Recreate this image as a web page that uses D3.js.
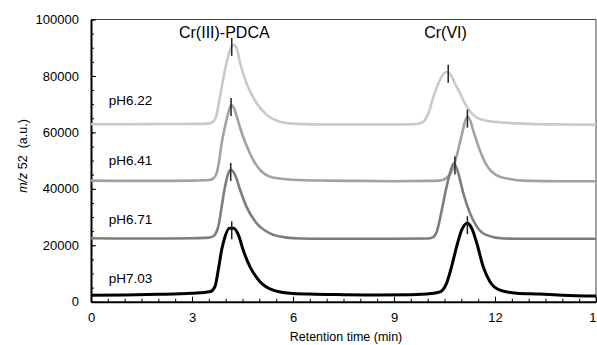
<!DOCTYPE html>
<html>
<head>
<meta charset="utf-8">
<script src="https://cdn.jsdelivr.net/npm/d3@7"></script>
<style>
  body { margin: 0; background: #fff; }
  svg { font-family: "Liberation Sans", Arial, sans-serif; }
</style>
</head>
<body>
<div class="chart"></div>
<script>
// chromatograms: [time (min), signal]
const ph622 = [[0,62900],[1,62900],[2,62950],[3,63000],[3.45,63100],[3.58,63400],[3.7,65000],[3.83,72600],[3.98,82100],[4.13,89200],[4.23,91000],[4.33,89800],[4.43,84500],[4.62,77400],[4.92,70300],[5.22,66200],[5.61,63800],[6.11,63000],[7,62800],[8,62800],[9,62800],[9.6,62900],[9.82,63400],[10.02,66700],[10.17,72600],[10.32,77400],[10.47,80700],[10.56,81500],[10.66,80700],[10.81,77400],[10.96,73900],[11.16,69100],[11.41,65600],[11.75,64100],[12.35,63400],[13.33,62900],[14,62800],[15,62700]];
const ph641 = [[0,42900],[1,42800],[2,42800],[3,42900],[3.5,43100],[3.63,43700],[3.73,45500],[3.81,50200],[3.88,56100],[3.98,62000],[4.08,67000],[4.16,69700],[4.25,68500],[4.33,65600],[4.48,59700],[4.72,52600],[4.82,50200],[5.02,46700],[5.32,44300],[5.81,43400],[6.21,43100],[7,42900],[8,42800],[9,42700],[10,42800],[10.35,42900],[10.55,43800],[10.68,45500],[10.8,49000],[10.93,55000],[11.03,60000],[11.1,63500],[11.18,65600],[11.27,64000],[11.35,60800],[11.55,53700],[11.75,48400],[12.05,44800],[12.44,43500],[12.84,42900],[14,42700],[15,42700]];
const ph671 = [[0,22500],[1,22400],[2,22400],[3,22500],[3.5,22700],[3.63,23200],[3.78,26600],[3.88,33600],[3.98,40700],[4.08,45500],[4.15,46700],[4.28,44900],[4.43,39600],[4.62,33600],[4.92,27800],[5.32,24200],[5.81,22700],[6.21,22400],[7,22300],[8,22300],[9,22300],[10,22400],[10.15,22800],[10.27,24800],[10.42,32500],[10.54,39600],[10.66,45500],[10.78,49000],[10.91,45500],[11.06,38400],[11.26,31300],[11.46,26600],[11.75,23600],[12.25,22400],[13,22300],[15,22300]];
const ph703 = [[0,2300],[1,2400],[2,2600],[3,3000],[3.53,3500],[3.68,5300],[3.78,11200],[3.88,18300],[3.98,23000],[4.11,26000],[4.23,26000],[4.38,23600],[4.52,18300],[4.72,12400],[5.02,7100],[5.41,4100],[5.91,3000],[6.5,2700],[7.5,2500],[8.5,2400],[9.5,2500],[10.1,2900],[10.37,3500],[10.56,6500],[10.71,12400],[10.86,19500],[11.01,25400],[11.18,27800],[11.31,26000],[11.46,20700],[11.65,12400],[11.85,7100],[12.15,4100],[12.64,3000],[13.3,2700],[14,2300],[15,2000]];

const seriesNames = ['pH6.22', 'pH6.41', 'pH6.71', 'pH7.03'];
const seriesData = [ph622, ph641, ph671, ph703];
const labelValues = [69700, 48400, 27500, 6700];

// peak tick marks: time and signal at the apex
const peakTimes = [4.18, 10.61, 4.16, 11.18, 4.15, 10.81, 4.18, 11.18];
const peakValues = [91000, 81500, 69700, 65600, 46700, 49000, 26000, 27800];

const peakNames = ['Cr(III)-PDCA', 'Cr(VI)'];
const peakNameTimes = [3.96, 10.53];

const xTicks = [0, 3, 6, 9, 12, 15];
const yTicks = [0, 20000, 40000, 60000, 80000, 100000];

const width = 597;
const height = 345;
const colors = ['#c9c9c9', '#a2a2a2', '#7d7d7d', '#000000'];
const widths = [2.6, 2.6, 2.6, 3];

const svg = d3.select('.chart')
    .append('svg')
    .attr('width', width)
    .attr('height', height);

const x = d3.scaleLinear().domain([0, 15]).range([91, 596]);
const y = d3.scaleLinear().domain([0, 100000]).range([301.7, 19.5]);

// frame (top and right)
svg.append('path')
    .attr('d', `M${x(0)},${y(100000)}H${x(15)}V${y(0)}`)
    .attr('fill', 'none')
    .attr('stroke', '#444')
    .attr('stroke-width', 1);

// minor ticks
svg.append('g')
    .attr('transform', `translate(0,${y(0)})`)
    .call(d3.axisBottom(x).tickValues(d3.range(0, 15.01, 0.5)).tickSize(-3).tickFormat(''))
    .call(g => g.select('.domain').remove());
svg.append('g')
    .attr('transform', `translate(${x(0)},0)`)
    .call(d3.axisLeft(y).tickValues(d3.range(0, 100001, 5000)).tickSize(-3).tickFormat(''))
    .call(g => g.select('.domain').remove());

// major axes
const xAxis = svg.append('g')
    .attr('transform', `translate(0,${y(0)})`)
    .call(d3.axisBottom(x).tickValues(xTicks).tickSize(-5).tickSizeOuter(0).tickPadding(11));
const yAxis = svg.append('g')
    .attr('transform', `translate(${x(0)},0)`)
    .call(d3.axisLeft(y).tickValues(yTicks).tickSize(-5).tickSizeOuter(0).tickPadding(12).tickFormat(d3.format('d')));

[xAxis, yAxis].forEach(g => {
    g.select('.domain').attr('stroke-width', 2);
    g.selectAll('text').attr('font-size', 13).attr('fill', '#000')
        .attr('font-family', '"Liberation Sans", Arial, sans-serif');
});

// chromatograms
const line = d3.line()
    .x(d => x(d[0]))
    .y(d => y(d[1]))
    .curve(d3.curveMonotoneX);

svg.selectAll('path.trace')
    .data(seriesData)
    .enter()
    .append('path')
    .attr('class', 'trace')
    .attr('d', line)
    .attr('fill', 'none')
    .attr('stroke', (d, i) => colors[i])
    .attr('stroke-width', (d, i) => widths[i])
    .attr('stroke-linejoin', 'round');

// peak marks
svg.selectAll('line.peak')
    .data(peakTimes)
    .enter()
    .append('line')
    .attr('class', 'peak')
    .attr('x1', d => x(d))
    .attr('x2', d => x(d))
    .attr('y1', (d, i) => y(peakValues[i]) - 7)
    .attr('y2', (d, i) => y(peakValues[i]) + 11)
    .attr('stroke', '#222')
    .attr('stroke-width', 1.5);

// series labels
svg.selectAll('text.series')
    .data(seriesNames)
    .enter()
    .append('text')
    .attr('class', 'series')
    .text(d => d)
    .attr('x', x(0.53))
    .attr('y', (d, i) => y(labelValues[i]))
    .attr('font-size', 13.5);

// peak names
svg.selectAll('text.peakname')
    .data(peakNames)
    .enter()
    .append('text')
    .attr('class', 'peakname')
    .text(d => d)
    .attr('x', (d, i) => x(peakNameTimes[i]))
    .attr('y', 38)
    .attr('text-anchor', 'middle')
    .attr('font-size', 16);

// axis titles
svg.append('text')
    .text('Retention time (min)')
    .attr('x', 346)
    .attr('y', 341)
    .attr('text-anchor', 'middle')
    .attr('font-size', 12.5);

const yTitle = svg.append('text')
    .attr('transform', 'translate(27,156) rotate(-90)')
    .attr('text-anchor', 'middle')
    .attr('font-size', 12.5);
yTitle.append('tspan').attr('font-style', 'italic').text('m/z');
yTitle.append('tspan').attr('xml:space', 'preserve').style('white-space', 'pre').text(' 52  (a.u.)');
</script>
</body>
</html>
